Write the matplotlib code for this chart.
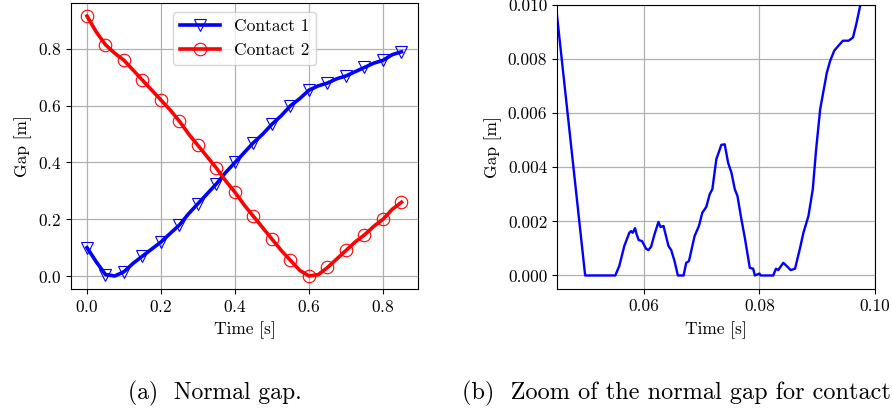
import matplotlib
matplotlib.use("Agg")
import matplotlib.pyplot as plt
import numpy as np

plt.rcParams['font.family'] = 'serif'
plt.rcParams['font.serif'] = ['cmr10']
plt.rcParams['mathtext.fontset'] = 'cm'
plt.rcParams['axes.formatter.use_mathtext'] = True
plt.rcParams['font.size'] = 12.5

# ---- data (a) ----
t_a = [0.0, 0.025, 0.05, 0.075, 0.1, 0.125, 0.15, 0.175, 0.2, 0.225, 0.25, 0.275,
       0.3, 0.325, 0.35, 0.375, 0.4, 0.425, 0.45, 0.475, 0.5, 0.525, 0.55, 0.575,
       0.6, 0.625, 0.65, 0.675, 0.7, 0.725, 0.75, 0.775, 0.8, 0.825, 0.85]
gap1 = [0.10, 0.05, 0.005, 0.0, 0.015, 0.045, 0.07, 0.095, 0.12, 0.15, 0.18, 0.22,
        0.255, 0.29, 0.325, 0.365, 0.40, 0.435, 0.47, 0.50, 0.535, 0.565, 0.60, 0.625,
        0.655, 0.67, 0.68, 0.695, 0.705, 0.72, 0.735, 0.75, 0.76, 0.78, 0.79]
gap2 = [0.916, 0.86, 0.815, 0.785, 0.76, 0.725, 0.69, 0.655, 0.62, 0.585, 0.545, 0.50,
        0.46, 0.42, 0.38, 0.335, 0.295, 0.25, 0.21, 0.17, 0.13, 0.09, 0.055, 0.02,
        0.0, 0.005, 0.03, 0.06, 0.09, 0.12, 0.145, 0.175, 0.20, 0.235, 0.26]

# ---- data (b) ----
t_b = [0.0445, 0.04987, 0.05508, 0.05577, 0.05664, 0.05751, 0.0578, 0.0581, 0.0585,
       0.05878, 0.05913, 0.05971, 0.0604, 0.06081, 0.06127, 0.06185, 0.06255, 0.0629,
       0.06342, 0.06428, 0.06475, 0.06533, 0.06591, 0.06689, 0.06735, 0.06782, 0.0688,
       0.06955, 0.07013, 0.07083, 0.0714, 0.07187, 0.07256, 0.07343, 0.07401, 0.07459,
       0.07517, 0.07575, 0.07621, 0.0769, 0.07748, 0.07835, 0.07893, 0.07922, 0.08,
       0.08026, 0.0824, 0.08287, 0.08327, 0.08414, 0.08472, 0.08542, 0.08617, 0.08704,
       0.08762, 0.08849, 0.08924, 0.08982, 0.09052, 0.09167, 0.09225, 0.09295, 0.0937,
       0.09445, 0.09544, 0.09619, 0.09677, 0.09746, 0.0978]
gap_b = [0.0106, 0.0, 0.0, 0.00035, 0.00109, 0.00158, 0.00164, 0.00158, 0.00175,
         0.00152, 0.00131, 0.00127, 0.00099, 0.00094, 0.00106, 0.00151, 0.00198, 0.00179,
         0.00183, 0.00109, 0.00094, 0.00053, 0.0, 0.0, 0.00047, 0.00053, 0.00146,
         0.00183, 0.00232, 0.00254, 0.0030, 0.00319, 0.0043, 0.00483, 0.00485, 0.00417,
         0.0038, 0.00319, 0.00294, 0.00207, 0.0014, 0.00028, 0.00025, 0.0, 0.00007,
         0.0, 0.0, 0.00025, 0.0002, 0.00047, 0.00035, 0.0002, 0.00025, 0.00102,
         0.00158, 0.0022, 0.00319, 0.00467, 0.00615, 0.0075, 0.00794, 0.00831, 0.0085,
         0.00868, 0.00868, 0.0088, 0.0093, 0.0100, 0.0105]

fig = plt.figure(figsize=(8.92, 4.12), dpi=100)
W, H = 892, 412
ax1 = fig.add_axes([71/W, 1-289/H, (418-71)/W, (289-3)/H])
ax2 = fig.add_axes([557/W, 1-289/H, (875-557)/W, (289-5)/H])

ax1.plot(t_a, gap1, color='blue', lw=2.6, marker='v', markevery=2, ms=9,
         mfc='none', mec='blue', mew=0.8, label='Contact 1')
ax1.plot(t_a, gap2, color='red', lw=2.6, marker='o', markevery=2, ms=9,
         mfc='none', mec='red', mew=0.8, label='Contact 2')
ax1.set_xlim(-0.0432, 0.8946)
ax1.set_ylim(-0.0458, 0.962)
ax1.set_xticks([0.0, 0.2, 0.4, 0.6, 0.8])
ax1.set_yticks([0.0, 0.2, 0.4, 0.6, 0.8])
ax1.grid(True, color='#b0b0b0', lw=0.9)
ax1.set_axisbelow(True)
ax1.set_xlabel('Time [s]', labelpad=5)
ax1.set_ylabel('Gap [m]')
ax1.legend(loc='upper center', handlelength=2.3, fontsize=12.5)

ax2.plot(t_b, gap_b, color='blue', lw=1.7)
ax2.set_xlim(0.045, 0.1)
ax2.set_ylim(-0.0005, 0.010)
ax2.set_xticks([0.06, 0.08, 0.10])
ax2.set_xticklabels(['0.06', '0.08', '0.10'])
ax2.set_yticks([0.0, 0.002, 0.004, 0.006, 0.008, 0.010])
ax2.set_yticklabels(['0.000', '0.002', '0.004', '0.006', '0.008', '0.010'])
ax2.grid(True, color='#b0b0b0', lw=0.9)
ax2.set_axisbelow(True)
ax2.set_xlabel('Time [s]', labelpad=5)
ax2.set_ylabel('Gap [m]')

fig.text(215/W, 1-393/H, '(a)  Normal gap.', ha='center', va='center', fontsize=17)
fig.text(462/W, 1-393/H, '(b)  Zoom of the normal gap for contact', ha='left', va='center', fontsize=17.5)

fig.savefig('out.png', dpi=100)
